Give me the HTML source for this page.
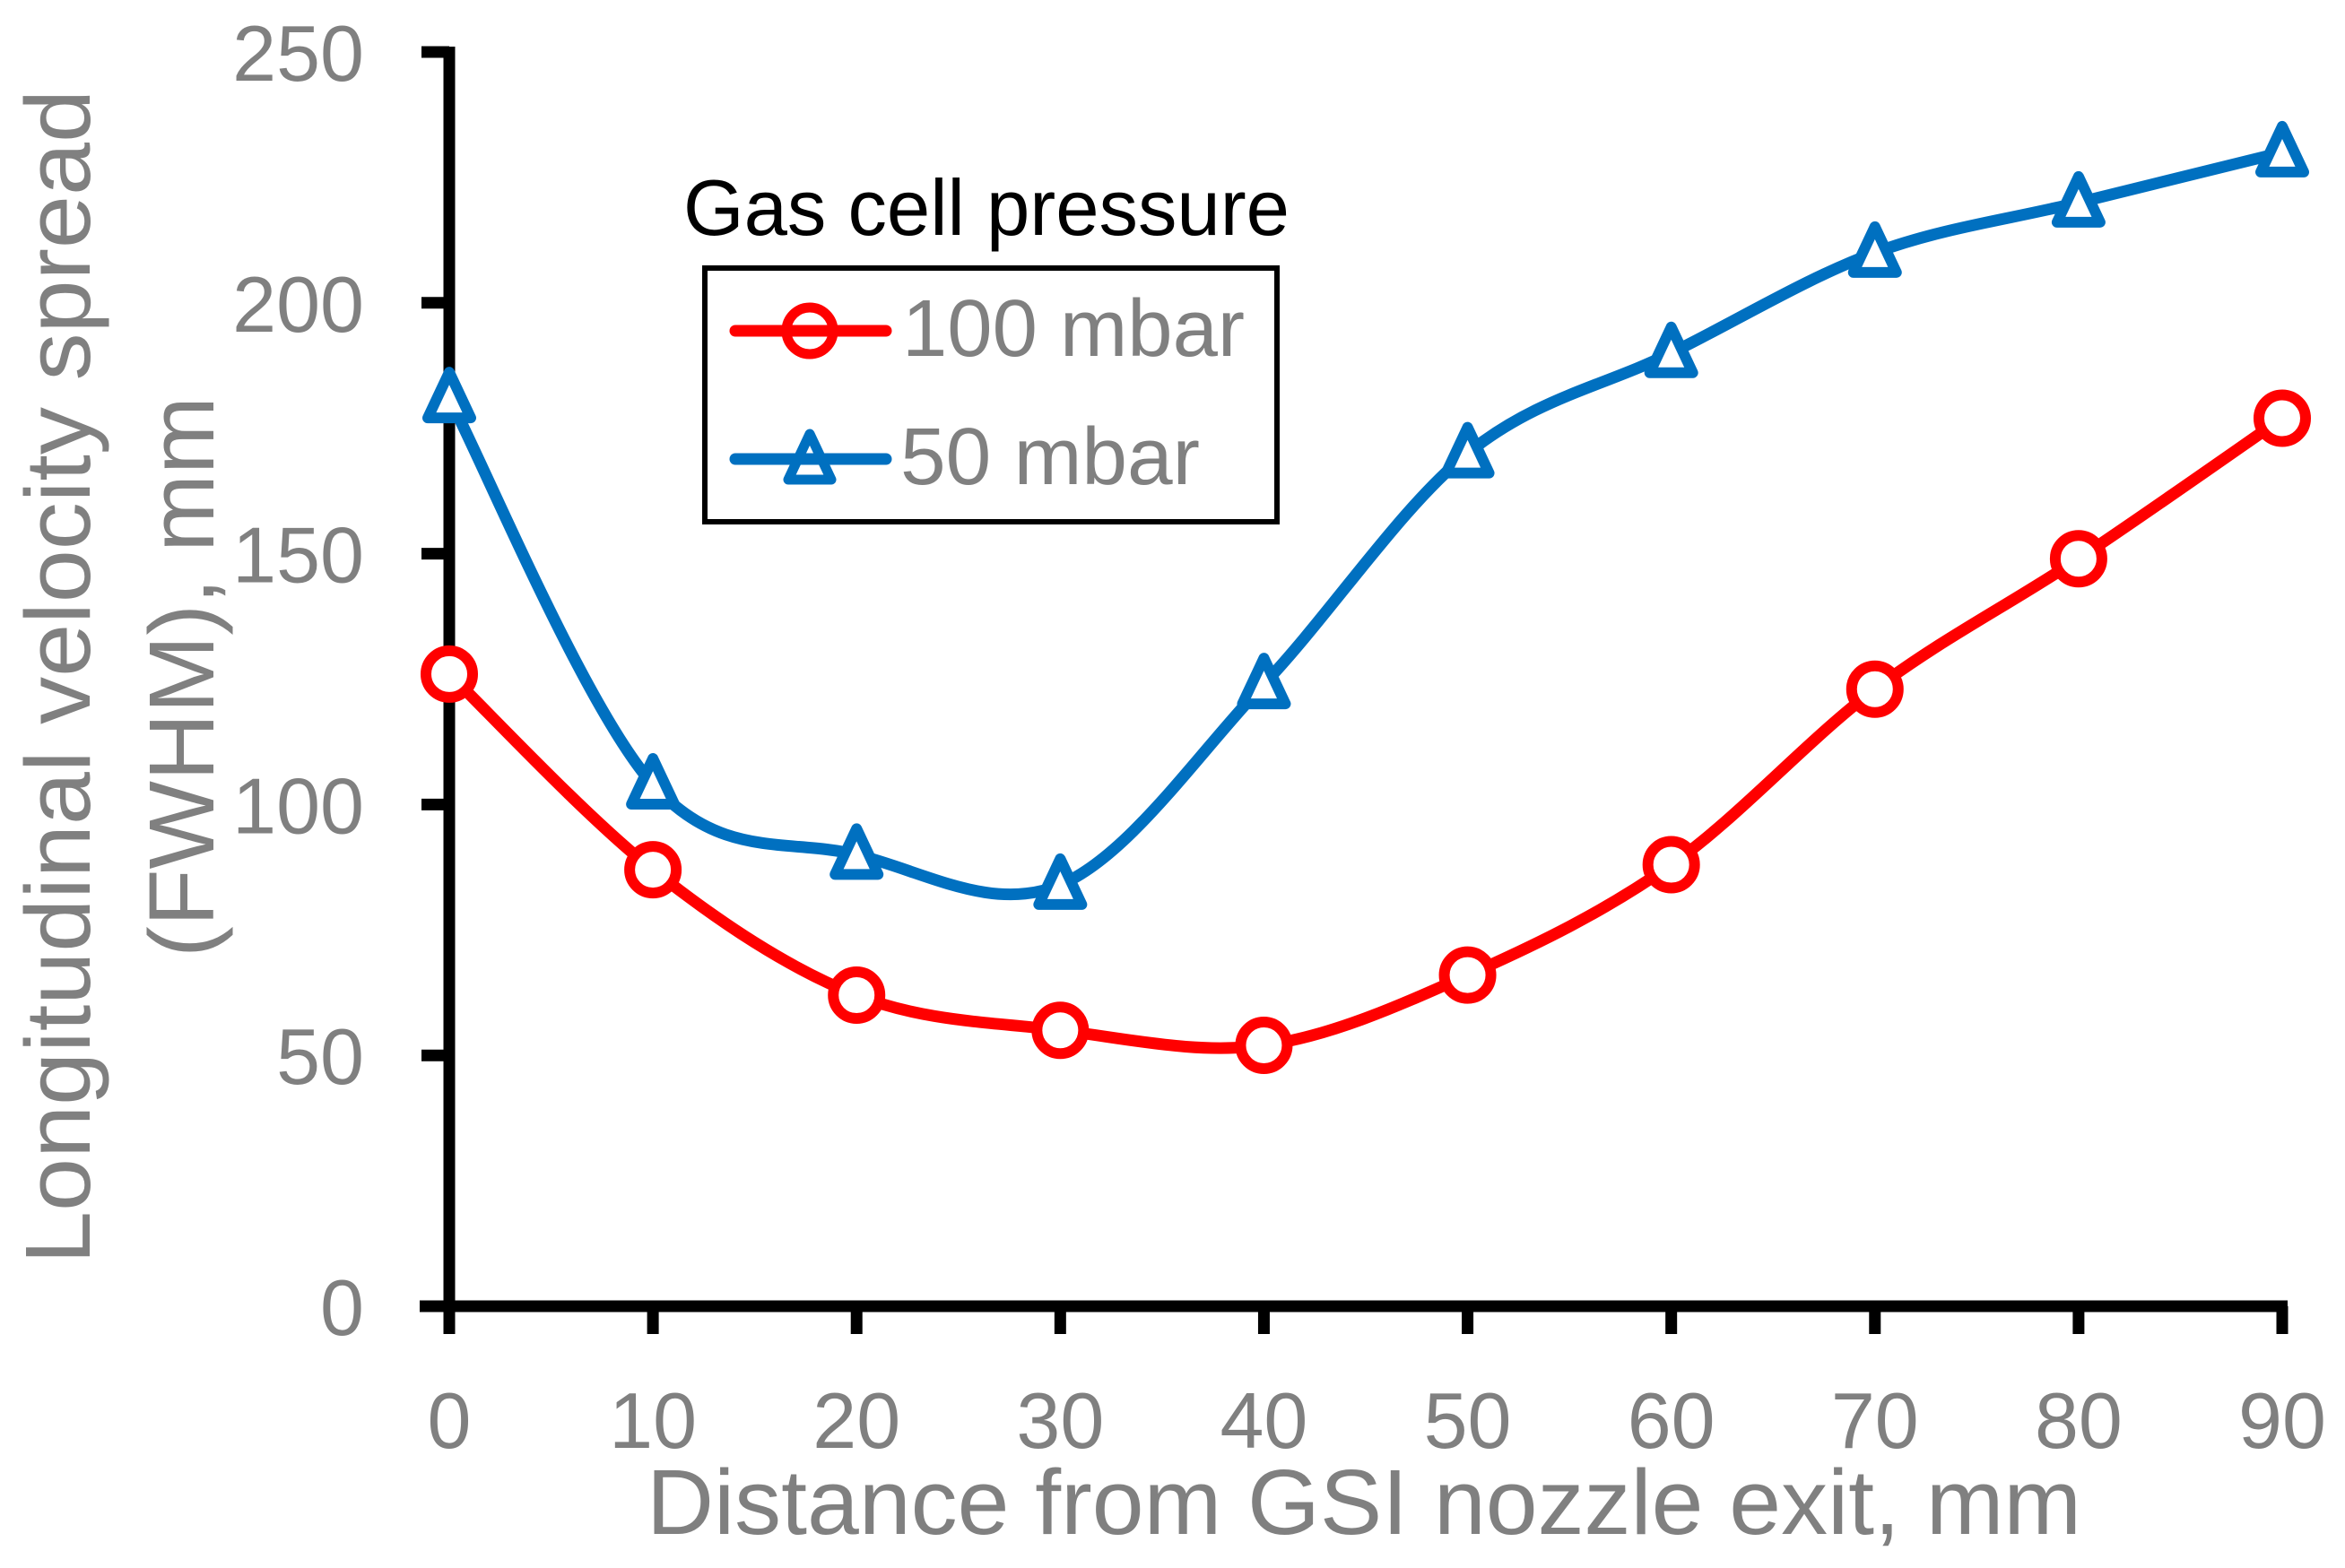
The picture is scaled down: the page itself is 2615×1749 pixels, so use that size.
<!DOCTYPE html>
<html><head><meta charset="utf-8"><style>
html,body{margin:0;padding:0;background:#fff}
svg{display:block}
text{font-family:"Liberation Sans",sans-serif}
</style></head><body>
<svg id="chart" width="2615" height="1749" viewBox="0 0 2615 1749" xmlns="http://www.w3.org/2000/svg">
<g id="axes"></g>
<g id="series"></g>
<text x="1521" y="1711" text-anchor="middle" font-size="103" fill="#808080" textLength="1600" lengthAdjust="spacingAndGlyphs">Distance from GSI nozzle exit, mm</text>
<text transform="translate(100,755) rotate(-90)" text-anchor="middle" font-size="103" fill="#808080" textLength="1310" lengthAdjust="spacingAndGlyphs">Longitudinal velocity spread</text>
<text transform="translate(238,755) rotate(-90)" text-anchor="middle" font-size="103" fill="#808080" textLength="626" lengthAdjust="spacingAndGlyphs">(FWHM), mm</text>
<g>
<text x="762" y="262" font-size="88" fill="#000" textLength="676" lengthAdjust="spacingAndGlyphs">Gas cell pressure</text>
<rect x="786" y="299" width="638" height="283" fill="#fff" stroke="#000" stroke-width="6"/>
<g>
<line x1="820" y1="369" x2="988" y2="369" stroke="#ff0000" stroke-width="13" stroke-linecap="round"/>
<circle cx="903" cy="369" r="26" fill="#fff" stroke="#ff0000" stroke-width="11"/>
<line x1="880" y1="369" x2="926" y2="369" stroke="#ff0000" stroke-width="13"/>
<text x="1006" y="397" font-size="90" fill="#808080" textLength="382" lengthAdjust="spacingAndGlyphs">100 mbar</text>
</g>
<g>
<line x1="820" y1="512" x2="988" y2="512" stroke="#0070c0" stroke-width="13" stroke-linecap="round"/>
<path d="M903,484 L927,535 L879,535 Z" fill="none" stroke="#0070c0" stroke-width="11" stroke-linejoin="round"/>
<line x1="890" y1="512" x2="916" y2="512" stroke="#0070c0" stroke-width="13"/>
<text x="1004" y="540" font-size="90" fill="#808080" textLength="334" lengthAdjust="spacingAndGlyphs">50 mbar</text>
</g>
</g>
</svg>
<script>
const xValues = [0,10,20,30,40,50,60,70,80,90];
const series100 = [126,87,62,55,52,66,88,123,149,177];
const series50 = [181,104,90,84,124,170,190,210,220,230];
const xTicks = [0,10,20,30,40,50,60,70,80,90];
const yTicks = [0,50,100,150,200,250];

const NS = 'http://www.w3.org/2000/svg';
const X0 = 501, X1 = 2545, Y0 = 1457, Y1 = 58;
function xs(v){ return X0 + (v-0)/(90-0)*(X1-X0); }
function ys(v){ return Y0 - (v-0)/(250-0)*(Y0-Y1); }
function mk(tag, attrs, parent){ const e=document.createElementNS(NS,tag); for(const k in attrs) e.setAttribute(k,attrs[k]); parent.appendChild(e); return e; }

const axes = document.getElementById('axes');
let l = mk('line',{x1:X0,y1:Y1-6,x2:X0,y2:Y0+6,stroke:'#000','stroke-width':13},axes);


l = mk('line',{x1:468,y1:Y0,x2:X1+6,y2:Y0,stroke:'#000','stroke-width':13},axes);


xTicks.forEach(t=>{
  const x = xs(t);
  const tk = mk('line',{x1:x,y1:Y0,x2:x,y2:1488,stroke:'#000','stroke-width':13},axes);
  
  
  const tx = mk('text',{x:x,y:1615,'text-anchor':'middle','font-size':88,fill:'#808080'},axes);
  tx.textContent = t;
  
  
});
yTicks.forEach(t=>{
  const y = ys(t);
  const tk = mk('line',{x1:470,y1:y,x2:X0,y2:y,stroke:'#000','stroke-width':13},axes);
  
  
  const tx = mk('text',{x:406,y:y+32,'text-anchor':'end','font-size':88,fill:'#808080'},axes);
  tx.textContent = t;
  
  
});

function smooth(pts){
  let d = 'M'+pts[0][0]+','+pts[0][1];
  for(let i=0;i<pts.length-1;i++){
    const p0=pts[Math.max(0,i-1)], p1=pts[i], p2=pts[i+1], p3=pts[Math.min(pts.length-1,i+2)];
    const t=1/6;
    const c1=[p1[0]+(p2[0]-p0[0])*t, p1[1]+(p2[1]-p0[1])*t];
    const c2=[p2[0]-(p3[0]-p1[0])*t, p2[1]-(p3[1]-p1[1])*t];
    d+=' C'+c1[0]+','+c1[1]+' '+c2[0]+','+c2[1]+' '+p2[0]+','+p2[1];
  }
  return d;
}
const sg = document.getElementById('series');
function drawSeries(vals, color, name, marker){
  const pts = xValues.map((x,i)=>[xs(x), ys(vals[i])]);
  const p = mk('path',{d:smooth(pts),fill:'none',stroke:color,'stroke-width':13,'stroke-linejoin':'round'},sg);
  
  
  pts.forEach(pt=>{
    let m;
    if(marker==='circle'){
      m = mk('circle',{cx:pt[0],cy:pt[1],r:26,fill:'#fff',stroke:color,'stroke-width':12},sg);
    } else {
      const [cx,cy]=pt;
      m = mk('path',{d:`M${cx},${cy-29} L${cx+24},${cy+22} L${cx-24},${cy+22} Z`,fill:'#fff',stroke:color,'stroke-width':12,'stroke-linejoin':'round'},sg);
    }
    
    
  });
}
drawSeries(series50,'#0070c0','series-50-mbar','triangle');
drawSeries(series100,'#ff0000','series-100-mbar','circle');
</script>
</body></html>
